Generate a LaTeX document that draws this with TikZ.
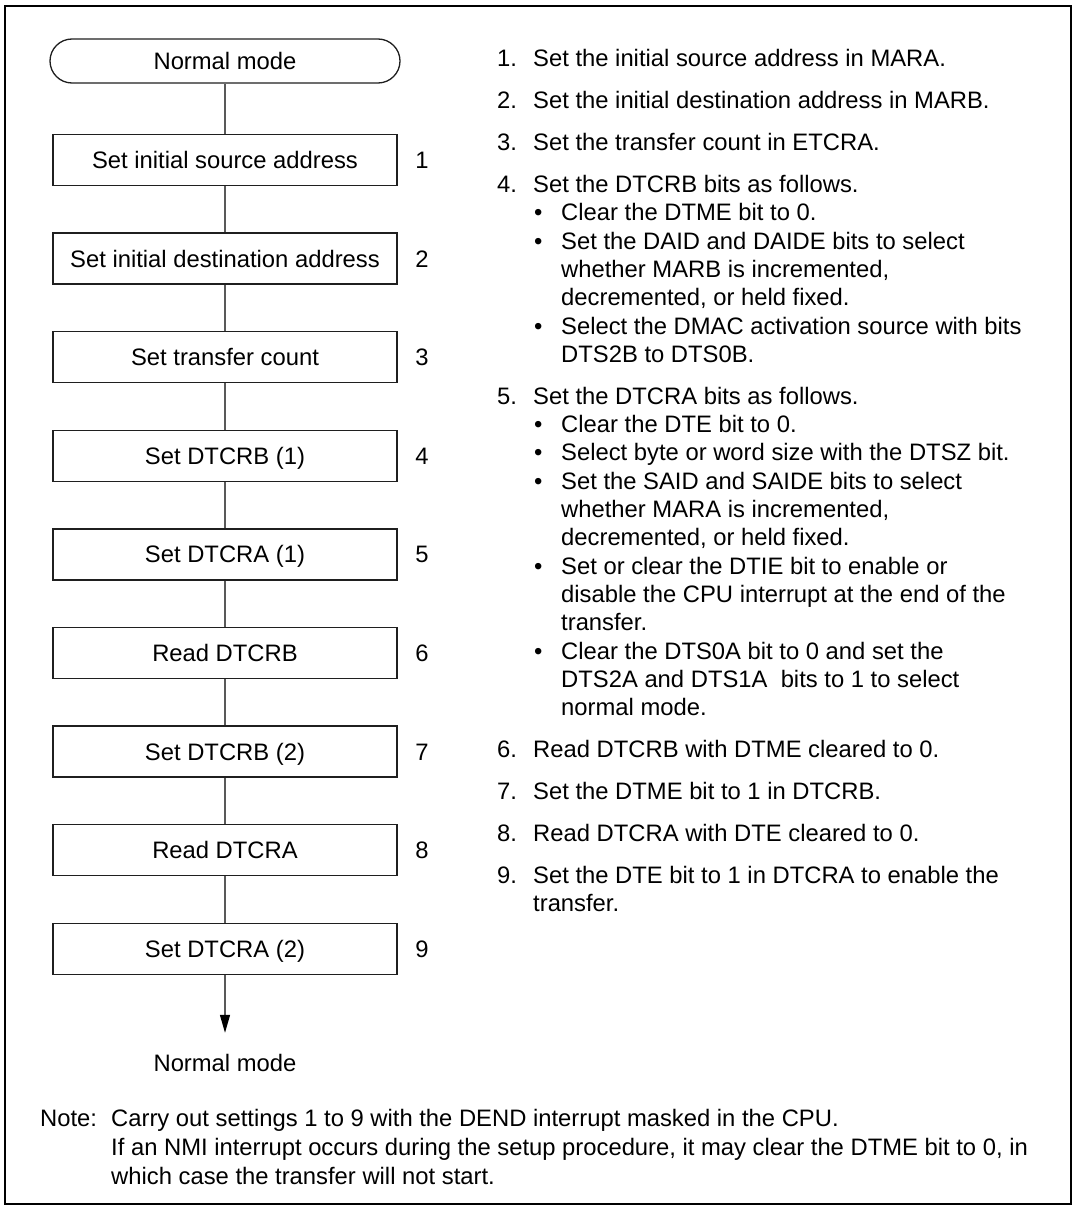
\documentclass[tikz,border=0pt]{standalone}
\usepackage{fontspec}
\setmainfont{Liberation Sans}
\usetikzlibrary{arrows.meta}
\newcommand\myfs{\fontsize{23.8pt}{28.3pt}\selectfont}
\begin{document}
\begin{tikzpicture}[x=1pt,y=-1pt,
  every node/.style={font=\myfs, inner sep=0pt},
  txt/.style={anchor=base west},
  stepbox/.style={draw=black!88, line width=1.3pt, minimum width=344pt, minimum height=51pt, text height=17pt, text depth=0pt},
  termbox/.style={draw=black!88, line width=1.3pt, rounded corners=22pt, minimum width=350pt, minimum height=44pt, text height=17pt, text depth=0pt},
  numlbl/.style={text height=17pt, text depth=0pt},
  conn/.style={draw=black!65, line width=1.3pt},
  tip/.style={-{Triangle[length=18pt,width=10pt,color=black,fill=black]}},
  frame/.style={draw=black, line width=2pt}
]
\useasboundingbox (0,0) rectangle (1075,1209);
\draw[frame] (5,6) rectangle (1071,1204);

% flow chart
\node[termbox] (start) at (225,61) {Normal mode};
\node[stepbox] (b1) at (225,160)   {Set initial source address};
\node[stepbox] (b2) at (225,258.6) {Set initial destination address};
\node[stepbox] (b3) at (225,357.2) {Set transfer count};
\node[stepbox] (b4) at (225,455.8) {Set DTCRB (1)};
\node[stepbox] (b5) at (225,554.4) {Set DTCRA (1)};
\node[stepbox] (b6) at (225,653)   {Read DTCRB};
\node[stepbox] (b7) at (225,751.6) {Set DTCRB (2)};
\node[stepbox] (b8) at (225,850.2) {Read DTCRA};
\node[stepbox] (b9) at (225,948.8) {Set DTCRA (2)};
\node[numlbl] (end) at (225,1063) {Normal mode};

\node[numlbl] (n1) at (422,160)   {1};
\node[numlbl] (n2) at (422,258.6) {2};
\node[numlbl] (n3) at (422,357.2) {3};
\node[numlbl] (n4) at (422,455.8) {4};
\node[numlbl] (n5) at (422,554.4) {5};
\node[numlbl] (n6) at (422,653)   {6};
\node[numlbl] (n7) at (422,751.6) {7};
\node[numlbl] (n8) at (422,850.2) {8};
\node[numlbl] (n9) at (422,948.8) {9};

\draw[conn] (start) -- (b1);
\draw[conn] (b1) -- (b2);
\draw[conn] (b2) -- (b3);
\draw[conn] (b3) -- (b4);
\draw[conn] (b4) -- (b5);
\draw[conn] (b5) -- (b6);
\draw[conn] (b6) -- (b7);
\draw[conn] (b7) -- (b8);
\draw[conn] (b8) -- (b9);
\draw[conn, tip, shorten >=21.5pt] (b9) -- (end);

% right-hand description
\node[txt] (i1) at (497,66.5) {1.};
\node[txt] (t1) at (533,66.5) {Set the initial source address in MARA.};
\node[txt] (i2) at (497,108.5) {2.};
\node[txt] (t2) at (533,108.5) {Set the initial destination address in MARB.};
\node[txt] (i3) at (497,150.5) {3.};
\node[txt] (t3) at (533,150.5) {Set the transfer count in ETCRA.};
\node[txt] (i4) at (497,192.5) {4.};
\node[txt] (t4) at (533,192.5) {Set the DTCRB bits as follows.};
\node[txt] (d4a) at (534,220.8) {•};
\node[txt] (t4a) at (561,220.8) {Clear the DTME bit to 0.};
\node[txt] (d4b) at (534,249.1) {•};
\node[txt] (t4b) at (561,249.1) {Set the DAID and DAIDE bits to select};
\node[txt] (t4c) at (561,277.4) {whether MARB is incremented,};
\node[txt] (t4d) at (561,305.7) {decremented, or held fixed.};
\node[txt] (d4e) at (534,334) {•};
\node[txt] (t4e) at (561,334) {Select the DMAC activation source with bits};
\node[txt] (t4f) at (561,362.3) {DTS2B to DTS0B.};
\node[txt] (i5) at (497,404.3) {5.};
\node[txt] (t5) at (533,404.3) {Set the DTCRA bits as follows.};
\node[txt] (d5a) at (534,432.6) {•};
\node[txt] (t5a) at (561,432.6) {Clear the DTE bit to 0.};
\node[txt] (d5b) at (534,460.9) {•};
\node[txt] (t5b) at (561,460.9) {Select byte or word size with the DTSZ bit.};
\node[txt] (d5c) at (534,489.2) {•};
\node[txt] (t5c) at (561,489.2) {Set the SAID and SAIDE bits to select};
\node[txt] (t5d) at (561,517.5) {whether MARA is incremented,};
\node[txt] (t5e) at (561,545.8) {decremented, or held fixed.};
\node[txt] (d5f) at (534,574.1) {•};
\node[txt] (t5f) at (561,574.1) {Set or clear the DTIE bit to enable or};
\node[txt] (t5g) at (561,602.4) {disable the CPU interrupt at the end of the};
\node[txt] (t5h) at (561,630.7) {transfer.};
\node[txt] (d5i) at (534,659) {•};
\node[txt] (t5i) at (561,659) {Clear the DTS0A bit to 0 and set the};
\node[txt] (t5j) at (561,687.3) {DTS2A and DTS1A\ \ bits to 1 to select};
\node[txt] (t5k) at (561,715.6) {normal mode.};
\node[txt] (i6) at (497,757.6) {6.};
\node[txt] (t6) at (533,757.6) {Read DTCRB with DTME cleared to 0.};
\node[txt] (i7) at (497,799.6) {7.};
\node[txt] (t7) at (533,799.6) {Set the DTME bit to 1 in DTCRB.};
\node[txt] (i8) at (497,841.6) {8.};
\node[txt] (t8) at (533,841.6) {Read DTCRA with DTE cleared to 0.};
\node[txt] (i9) at (497,883.6) {9.};
\node[txt] (t9) at (533,883.6) {Set the DTE bit to 1 in DTCRA to enable the};
\node[txt] (t9b) at (533,911.9) {transfer.};

% note
\node[txt] (note) at (40,1126) {Note:};
\node[txt] (nt1) at (111,1126) {Carry out settings 1 to 9 with the DEND interrupt masked in the CPU.};
\node[txt] (nt2) at (111,1155) {If an NMI interrupt occurs during the setup procedure, it may clear the DTME bit to 0, in};
\node[txt] (nt3) at (111,1184) {which case the transfer will not start.};
\end{tikzpicture}
\end{document}
